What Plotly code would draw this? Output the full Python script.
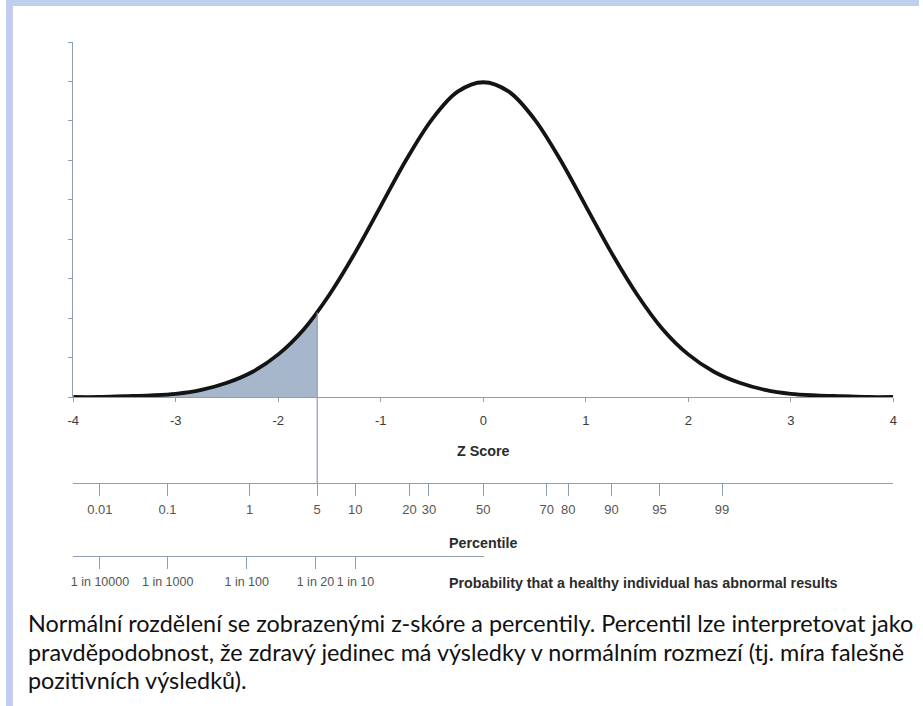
import plotly.graph_objects as go

W, H = 923, 706

# ---- data ----
z_curve = [-4.0, -3.75, -3.5, -3.25, -3.0, -2.75, -2.5, -2.25, -2.0, -1.75, -1.5, -1.25,
           -1.0, -0.75, -0.5, -0.25, 0.0, 0.25, 0.5, 0.75, 1.0, 1.25, 1.5, 1.75,
           2.0, 2.25, 2.5, 2.75, 3.0, 3.25, 3.5, 3.75, 4.0]
density = [0.000, 0.000, 0.001, 0.002, 0.004, 0.009, 0.018, 0.032, 0.054, 0.086, 0.130, 0.183,
           0.242, 0.301, 0.352, 0.387, 0.399, 0.387, 0.352, 0.301, 0.242, 0.183, 0.130, 0.086,
           0.054, 0.032, 0.018, 0.009, 0.004, 0.002, 0.001, 0.000, 0.000]
cutoff_z = -1.62
cutoff_density = 0.107

z_ticks = [-4, -3, -2, -1, 0, 1, 2, 3, 4]
z_labels = ["-4", "-3", "-2", "-1", "0", "1", "2", "3", "4"]

pct_z = [-3.74, -3.08, -2.28, -1.62, -1.25, -0.72, -0.53, 0.0, 0.62, 0.83, 1.25, 1.72, 2.33]
pct_labels = ["0.01", "0.1", "1", "5", "10", "20", "30", "50", "70", "80", "90", "95", "99"]

prob_z = [-3.74, -3.08, -2.31, -1.64, -1.25]
prob_labels = ["1 in 10000", "1 in 1000", "1 in 100", "1 in 20", "1 in 10"]

caption = [
    "Normální rozdělení se zobrazenými z-skóre a percentily. Percentil lze interpretovat jako",
    "pravděpodobnost, že zdravý jedinec má výsledky v normálním rozmezí (tj. míra falešně",
    "pozitivních výsledků).",
]

# ---- layout helpers (pixel -> paper) ----
def px(x):
    return x / W

def py(y):
    return 1 - y / H

AX = "#8d9db2"
TXT = "#3a3a3a"

shade_x = [z for z in z_curve if z < cutoff_z] + [cutoff_z]
shade_y = [d for z, d in zip(z_curve, density) if z < cutoff_z] + [cutoff_density]

fig = go.Figure()
fig.add_trace(go.Scatter(x=shade_x, y=shade_y, mode="lines", fill="tozeroy",
                         fillcolor="#a6b7cb", line=dict(width=0, shape="spline"),
                         hoverinfo="skip", showlegend=False))
fig.add_trace(go.Scatter(x=z_curve, y=density, mode="lines",
                         line=dict(color="#141414", width=3.8, shape="spline"),
                         showlegend=False))
# anchor traces for the extra axes
fig.add_trace(go.Scatter(x=[0], y=[0], xaxis="x2", yaxis="y", mode="markers",
                         marker=dict(opacity=0), showlegend=False, hoverinfo="skip"))
fig.add_trace(go.Scatter(x=[-1], y=[0], xaxis="x3", yaxis="y", mode="markers",
                         marker=dict(opacity=0), showlegend=False, hoverinfo="skip"))

tickfont = dict(family="Liberation Sans, Arial, sans-serif", size=13, color=TXT)

fig.update_layout(
    width=W, height=H, autosize=False,
    margin=dict(l=0, r=0, t=0, b=0),
    paper_bgcolor="white", plot_bgcolor="rgba(0,0,0,0)",
    xaxis=dict(domain=[px(68), px(897)], range=[-4, 4], tickvals=z_ticks, ticktext=z_labels,
               showline=True, linecolor=AX, linewidth=1.2, ticks="outside", ticklen=4,
               tickcolor=AX, showgrid=False, zeroline=False, tickfont=tickfont,
               ticklabelstandoff=7, fixedrange=True),
    yaxis=dict(domain=[py(397), py(42)], range=[0, 0.45], dtick=0.05, tick0=0,
               showline=True, linecolor=AX, linewidth=1.2, ticks="outside", ticklen=4,
               tickcolor=AX, showticklabels=False, showgrid=False, zeroline=False,
               fixedrange=True),
    xaxis2=dict(overlaying="x", matches="x", anchor="free", position=py(483), side="bottom",
                tickvals=pct_z, ticktext=pct_labels, showline=True, linecolor=AX, linewidth=1.2,
                ticks="outside", ticklen=12, tickcolor=AX, showgrid=False, zeroline=False,
                tickfont=dict(family="Liberation Sans, Arial, sans-serif", size=13, color="#555"),
                ticklabelstandoff=2),
    xaxis3=dict(domain=[px(68), px(483)], range=[-4, 0], anchor="free", position=py(556),
                side="bottom", tickvals=prob_z, ticktext=prob_labels, showline=True,
                linecolor=AX, linewidth=1.2, ticks="outside", ticklen=12, tickcolor=AX,
                showgrid=False, zeroline=False,
                tickfont=dict(family="Liberation Sans, Arial, sans-serif", size=12.5, color="#555"),
                ticklabelstandoff=2),
)

# decorative scanned-page border (top and left strips)
fig.add_shape(type="rect", xref="paper", yref="paper", x0=0, x1=px(7), y0=0, y1=1,
              fillcolor="#c3cdef", line=dict(width=0), layer="below")
fig.add_shape(type="rect", xref="paper", yref="paper", x0=0, x1=1, y0=py(6), y1=1,
              fillcolor="#bfd0ee", line=dict(width=0), layer="below")

# vertical cut-off line
fig.add_shape(type="line", xref="x", yref="y", x0=cutoff_z, x1=cutoff_z, y0=0, y1=cutoff_density,
              line=dict(color=AX, width=1.2))
fig.add_shape(type="line", xref="x", yref="paper", x0=cutoff_z, x1=cutoff_z, y0=py(483), y1=py(397),
              line=dict(color=AX, width=1.2))

bold = dict(family="Liberation Sans, Arial, sans-serif", size=14.3, color="#2b2b2b")
fig.add_annotation(text="<b>Z Score</b>", xref="x", yref="paper", x=0, y=py(451),
                   xanchor="center", yanchor="middle", showarrow=False, font=bold)
fig.add_annotation(text="<b>Percentile</b>", xref="x", yref="paper", x=0, y=py(543),
                   xanchor="center", yanchor="middle", showarrow=False, font=bold)
fig.add_annotation(text="<b>Probability that a healthy individual has abnormal results</b>",
                   xref="paper", yref="paper", x=px(446), y=py(583),
                   xanchor="left", yanchor="middle", showarrow=False, font=bold)

for i, (line, yc) in enumerate(zip(caption, [623, 652, 680])):
    fig.add_annotation(text=line, xref="paper", yref="paper", x=px(20), y=py(yc),
                       xanchor="left", yanchor="middle", showarrow=False,
                       font=dict(family="Lato, Open Sans, sans-serif", size=23.4, color="#111"))

fig.write_html("out.html", config={"displayModeBar": False},
               post_script="document.body.style.margin='0';document.body.style.overflow='hidden';")
